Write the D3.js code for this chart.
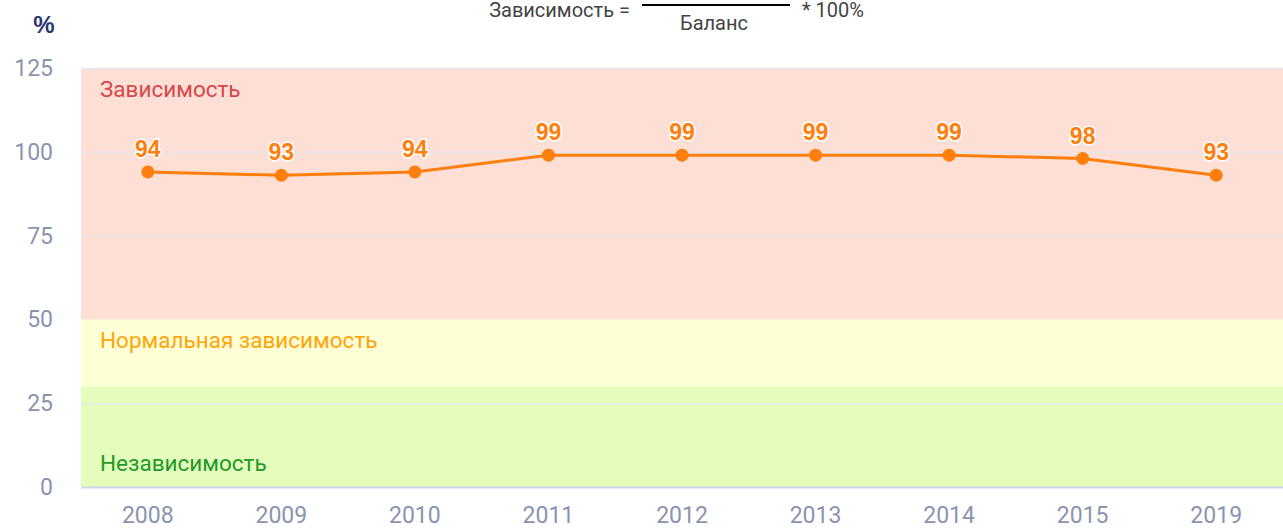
<!DOCTYPE html>
<html>
<head>
<meta charset="utf-8">
<script src="https://cdn.jsdelivr.net/npm/d3@7"></script>
<style>
  body { margin: 0; background: #fff; }
  svg { display: block; }
</style>
</head>
<body>
<script>
const WIDTH = 1283
const HEIGHT = 529

// data
const years = ['2008', '2009', '2010', '2011', '2012', '2013', '2014', '2015', '2019']
const values = [94, 93, 94, 99, 99, 99, 99, 98, 93]
const yTicks = [0, 25, 50, 75, 100, 125]
const bands = [
  { from: 0, to: 30, fill: '#e4fdbc', label: 'Независимость', color: '#1e9a2a' },
  { from: 30, to: 50, fill: '#ffffd5', label: 'Нормальная зависимость', color: '#ffa50a' },
  { from: 50, to: 125, fill: '#fddfd6', label: 'Зависимость', color: '#d9474b' }
]

const margin = { left: 81, right: 0, top: 68, bottom: 42 }
const FONT = 'Roboto, sans-serif'

const svg = d3.select('body').append('svg')
  .attr('width', WIDTH)
  .attr('height', HEIGHT)

const x = d3.scaleBand()
  .domain(years)
  .range([margin.left, WIDTH - margin.right])

const y = d3.scaleLinear()
  .domain([0, 125])
  .range([HEIGHT - margin.bottom, margin.top])

// bands
svg.selectAll('rect.band')
  .data(bands)
  .enter()
  .append('rect')
  .attr('class', 'band')
  .attr('x', margin.left)
  .attr('width', WIDTH - margin.left - margin.right)
  .attr('y', d => y(d.to))
  .attr('height', d => y(d.from) - y(d.to))
  .style('fill', d => d.fill)

// grid lines
svg.selectAll('line.grid')
  .data(yTicks.filter(t => t !== 0 && t !== 50))
  .enter()
  .append('line')
  .attr('class', 'grid')
  .attr('x1', margin.left)
  .attr('x2', WIDTH - margin.right)
  .attr('y1', d => y(d) + 0.5)
  .attr('y2', d => y(d) + 0.5)
  .style('stroke', '#e6e6e6')
  .style('stroke-width', 1.5)

// band labels
svg.selectAll('text.bandlabel')
  .data(bands)
  .enter()
  .append('text')
  .attr('class', 'bandlabel')
  .attr('x', 100)
  .attr('y', d => d.from === 0 ? y(d.from) - 16 : y(d.to) + 29)
  .style('font-family', FONT)
  .style('font-size', '22.5px')
  .style('fill', d => d.color)
  .text(d => d.label)

// x axis line
svg.append('line')
  .attr('x1', margin.left)
  .attr('x2', WIDTH - margin.right)
  .attr('y1', y(0) + 0.5)
  .attr('y2', y(0) + 0.5)
  .style('stroke', '#ccd6eb')
  .style('stroke-width', 2)

// y tick labels
svg.selectAll('text.ytick')
  .data(yTicks)
  .enter()
  .append('text')
  .attr('class', 'ytick')
  .attr('x', 53)
  .attr('y', d => y(d) + 8)
  .attr('text-anchor', 'end')
  .style('font-family', FONT)
  .style('font-size', '23px')
  .style('fill', '#8b94ae')
  .text(d => d)

// x tick labels
svg.selectAll('text.xtick')
  .data(years)
  .enter()
  .append('text')
  .attr('class', 'xtick')
  .attr('x', d => x(d) + x.bandwidth() / 2)
  .attr('y', HEIGHT - 6)
  .attr('text-anchor', 'middle')
  .style('font-family', FONT)
  .style('font-size', '23px')
  .style('fill', '#8b94ae')
  .text(d => d)

// unit
svg.append('text')
  .attr('x', 44)
  .attr('y', 33)
  .attr('text-anchor', 'middle')
  .style('font-family', '"Liberation Sans", sans-serif')
  .style('font-weight', 'bold')
  .style('font-size', '24px')
  .style('fill', '#2b3573')
  .text('%')

// formula (top part is cut off in the original)
const formula = svg.append('g')
formula.append('text')
  .attr('x', 630).attr('y', 17)
  .attr('text-anchor', 'end')
  .style('font-family', FONT)
  .style('font-size', '20px')
  .style('fill', '#444')
  .text('Зависимость =')
formula.append('line')
  .attr('x1', 642).attr('x2', 790)
  .attr('y1', 5).attr('y2', 5)
  .style('stroke', '#000')
  .style('stroke-width', 2)
formula.append('text')
  .attr('x', 714).attr('y', 30)
  .attr('text-anchor', 'middle')
  .style('font-family', FONT)
  .style('font-size', '20px')
  .style('fill', '#444')
  .text('Баланс')
formula.append('text')
  .attr('x', 802).attr('y', 17)
  .style('font-family', FONT)
  .style('font-size', '20px')
  .style('fill', '#444')
  .text('* 100%')

const points = years.map((d, i) => ({ year: d, value: values[i] }))

// line
const line = d3.line()
  .x(d => x(d.year) + x.bandwidth() / 2)
  .y(d => y(d.value))

svg.append('path')
  .datum(points)
  .attr('d', line)
  .style('fill', 'none')
  .style('stroke', '#ff7f0e')
  .style('stroke-width', 3)

svg.selectAll('circle')
  .data(points)
  .enter()
  .append('circle')
  .attr('cx', d => x(d.year) + x.bandwidth() / 2)
  .attr('cy', d => y(d.value))
  .attr('r', 6.5)
  .style('fill', '#ff7f0e')

// data labels
svg.selectAll('text.dlabel')
  .data(points)
  .enter()
  .append('text')
  .attr('class', 'dlabel')
  .attr('x', d => x(d.year) + x.bandwidth() / 2)
  .attr('y', d => y(d.value) - 15)
  .attr('text-anchor', 'middle')
  .style('font-family', '"Liberation Sans", sans-serif')
  .style('font-weight', 'bold')
  .style('font-size', '23px')
  .style('fill', '#ff7f0e')
  .style('stroke', '#fff')
  .style('stroke-width', 3)
  .style('paint-order', 'stroke')
  .style('stroke-linejoin', 'round')
  .text(d => d.value)
</script>
</body>
</html>
